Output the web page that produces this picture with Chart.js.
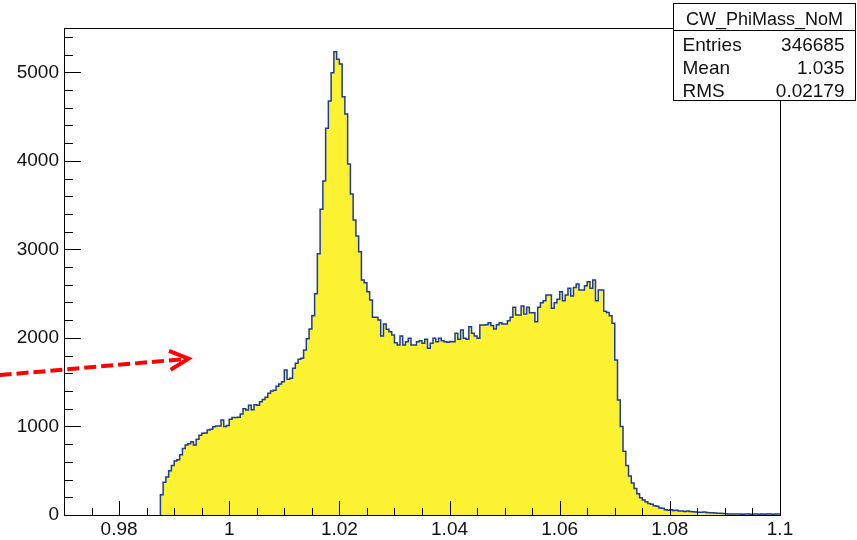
<!DOCTYPE html>
<html>
<head>
<meta charset="utf-8">
<script src="https://cdn.jsdelivr.net/npm/chart.js@4/dist/chart.umd.min.js"></script>
<style>
  html, body { margin: 0; padding: 0; background: #fff; }
  canvas { display: block; }
</style>
</head>
<body>
<canvas id="chart" width="857" height="540"></canvas>
<script>
// histogram CW_PhiMass_NoM, bins of 0.0005 starting at 0.9875
const histName = "CW_PhiMass_NoM";
const statLabels = ["Entries", "Mean", "RMS"];
const statValues = ["346685", "1.035", "0.02179"];

const xMin = 0.97, xMax = 1.1;
const yMin = 0, yMax = 5500;
const xMajorTicks = [0.98, 1.0, 1.02, 1.04, 1.06, 1.08, 1.1];
const xMajorLabels = ["0.98", "1", "1.02", "1.04", "1.06", "1.08", "1.1"];
const xMinorStep = 0.005;
const yMajorStep = 1000, yMinorStep = 200;

const firstBinLow = 0.9875;
const binWidth = 0.0005;
const counts = [
  230, 370, 430, 500, 560, 610, 625, 680, 750, 790, 805, 828, 790, 855, 900,
  922, 925, 960, 968, 997, 1005, 1005, 1073, 1000, 1010, 1080, 1100, 1100, 1105, 1140,
  1200, 1185, 1240, 1190, 1245, 1240, 1280, 1305, 1330, 1375, 1400, 1410, 1455, 1480, 1505,
  1637, 1532, 1545, 1656, 1713, 1760, 1770, 1863, 1990, 2100, 2250, 2500, 2950, 3452, 3772,
  4367, 4676, 4996, 5233, 5147, 5094, 4724, 4529, 3964, 3626, 3332, 3150, 2974, 2654, 2624,
  2522, 2428, 2233, 2233, 2202, 2022, 2157, 2097, 2070, 2033, 1946, 1920, 2022, 1920, 1957,
  1996, 1920, 1920, 1957, 1968, 1939, 1985, 1883, 1939, 1996, 1957, 1996, 1968, 1957, 1950,
  1960, 1957, 2052, 1985, 2090, 1996, 1985, 2127, 2052, 2022, 1996, 2146, 2146, 2150, 2172,
  2140, 2100, 2150, 2172, 2157, 2157, 2195, 2233, 2346, 2259, 2259, 2360, 2270, 2346, 2285,
  2285, 2183, 2346, 2398, 2420, 2485, 2485, 2334, 2398, 2436, 2522, 2420, 2485, 2560, 2473,
  2570, 2609, 2541, 2541, 2590, 2635, 2560, 2654, 2420, 2541, 2541, 2300, 2288, 2250, 2165,
  1751, 1300, 1000, 720, 560, 440, 360, 300, 240, 195, 170, 150, 130, 120, 105,
  100, 80, 75, 60, 55, 60, 50, 55, 45, 45, 40, 45, 40, 38, 35,
  30, 30, 35, 28, 25, 25, 22, 20, 20, 18, 15, 12, 12, 10, 12,
  10, 8, 10, 12, 8, 10, 10, 8, 10, 8, 12, 10, 8, 10, 12
];

// red dashed arrow annotation, in data coordinates
const arrowFrom = [0.9583, 1580];
const arrowTo = [0.9926, 1765];

const fillColor = "#fcf232";
const lineColor = "#1c3c9c";
const font = "'Liberation Sans', Arial, Helvetica, sans-serif";

// bin left edges as step points
const points = [{x: firstBinLow, y: 0}];
counts.forEach((c, i) => points.push({x: firstBinLow + i * binWidth, y: c}));
points.push({x: firstBinLow + counts.length * binWidth, y: counts[counts.length - 1]});

function majorLabel(v) {
  for (let i = 0; i < xMajorTicks.length; i++)
    if (Math.abs(v - xMajorTicks[i]) < 1e-7) return xMajorLabels[i];
  return "";
}

const decorations = {
  id: "decorations",
  afterDraw(chart) {
    const ctx = chart.ctx, a = chart.chartArea;
    const x = chart.scales.x, y = chart.scales.y;
    ctx.save();
    ctx.strokeStyle = "#000";
    ctx.lineWidth = 1;
    // frame
    ctx.strokeRect(a.left + 0.5, a.top + 0.5, a.right - a.left, a.bottom - a.top);
    // ticks pointing inward
    ctx.beginPath();
    for (const t of x.ticks) {
      const px = Math.round(x.getPixelForValue(t.value)) + 0.5;
      const len = t.label ? 14 : 7;
      ctx.moveTo(px, a.bottom);
      ctx.lineTo(px, a.bottom - len);
    }
    for (const t of y.ticks) {
      const py = Math.round(y.getPixelForValue(t.value)) + 0.5;
      const len = t.label ? 17 : 9;
      ctx.moveTo(a.left, py);
      ctx.lineTo(a.left + len, py);
    }
    ctx.stroke();

    // arrow
    const x0 = x.getPixelForValue(arrowFrom[0]), y0 = y.getPixelForValue(arrowFrom[1]);
    const x1 = x.getPixelForValue(arrowTo[0]), y1 = y.getPixelForValue(arrowTo[1]);
    ctx.strokeStyle = "#ff0000";
    ctx.lineWidth = 4;
    ctx.setLineDash([12, 5]);
    ctx.beginPath();
    ctx.moveTo(x0, y0);
    ctx.lineTo(x1 - 3, y1 + 0.3);
    ctx.stroke();
    ctx.setLineDash([]);
    const ang = Math.atan2(y0 - y1, x0 - x1);
    ctx.beginPath();
    ctx.moveTo(x1 + 21 * Math.cos(ang - 0.47), y1 + 21 * Math.sin(ang - 0.47));
    ctx.lineTo(x1, y1);
    ctx.lineTo(x1 + 21 * Math.cos(ang + 0.47), y1 + 21 * Math.sin(ang + 0.47));
    ctx.lineJoin = "miter";
    ctx.stroke();

    // stats box
    const bx = 673.5, by = 3.5, bw = 182, bh = 97, hh = 27;
    ctx.fillStyle = "#fff";
    ctx.fillRect(bx, by, bw, bh);
    ctx.strokeStyle = "#000";
    ctx.lineWidth = 1;
    ctx.strokeRect(bx, by, bw, bh);
    ctx.beginPath();
    ctx.moveTo(bx, by + hh);
    ctx.lineTo(bx + bw, by + hh);
    ctx.stroke();
    ctx.fillStyle = "#111";
    ctx.font = "18px " + font;
    ctx.textBaseline = "alphabetic";
    ctx.textAlign = "center";
    ctx.fillText(histName, bx + bw / 2, by + 21);
    ctx.font = "19px " + font;
    for (let i = 0; i < statLabels.length; i++) {
      const ty = by + hh + 20 + i * 23;
      ctx.textAlign = "left";
      ctx.fillText(statLabels[i], bx + 9, ty);
      ctx.textAlign = "right";
      ctx.fillText(statValues[i], bx + bw - 11, ty);
    }
    ctx.restore();
  }
};

new Chart(document.getElementById("chart").getContext("2d"), {
  type: "line",
  data: {
    datasets: [{
      label: histName,
      data: points,
      stepped: true,
      fill: "origin",
      backgroundColor: fillColor,
      borderColor: lineColor,
      borderWidth: 1.5,
      pointRadius: 0,
      tension: 0
    }]
  },
  options: {
    responsive: false,
    animation: false,
    devicePixelRatio: 1,
    layout: { padding: { top: 28, right: 77, left: 0, bottom: 0 } },
    plugins: { legend: { display: false }, tooltip: { enabled: false }, title: { display: false } },
    scales: {
      x: {
        type: "linear",
        min: xMin,
        max: xMax,
        grid: { display: false, drawTicks: false },
        border: { display: false },
        afterBuildTicks: s => {
          const t = [];
          const n = Math.round((xMax - xMin) / xMinorStep);
          for (let i = 0; i <= n; i++) t.push({ value: xMin + i * xMinorStep });
          s.ticks = t;
        },
        afterFit: s => { s.height = 25; },
        ticks: {
          autoSkip: false,
          maxRotation: 0,
          padding: 3,
          color: "#111",
          font: { family: font, size: 19 },
          callback: v => majorLabel(v)
        }
      },
      y: {
        type: "linear",
        min: yMin,
        max: yMax,
        grid: { display: false, drawTicks: false },
        border: { display: false },
        afterBuildTicks: s => {
          const t = [];
          for (let v = yMin; v < yMax; v += yMinorStep) t.push({ value: v });
          s.ticks = t;
        },
        afterFit: s => { s.width = 64; },
        ticks: {
          autoSkip: false,
          padding: 5,
          color: "#111",
          font: { family: font, size: 19 },
          callback: v => (v % yMajorStep === 0 ? String(v) : "")
        }
      }
    }
  },
  plugins: [decorations]
});
</script>
</body>
</html>
